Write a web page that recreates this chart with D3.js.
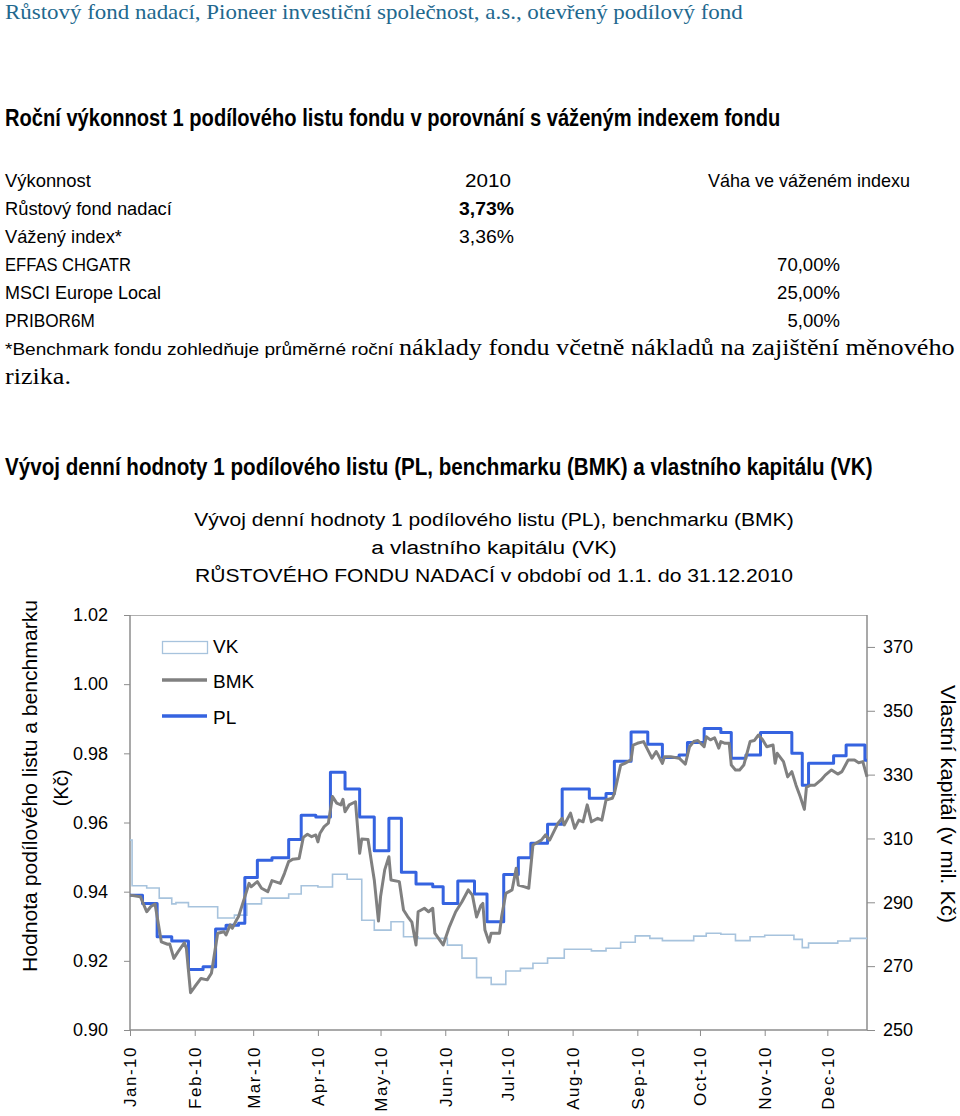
<!DOCTYPE html>
<html>
<head>
<meta charset="utf-8">
<script src="https://cdn.jsdelivr.net/npm/d3@7"></script>
<style>
  body { margin: 0; background: #fff; }
  svg { display: block; }
  text { font-family: "Liberation Sans", Arial, sans-serif; }
  text.narrow { font-family: "Liberation Sans Narrow", "Arial Narrow", "Liberation Sans", Arial, sans-serif; }
  text.serif { font-family: "Liberation Serif", "Times New Roman", serif; }
</style>
</head>
<body>
<svg id="chart" width="960" height="1116"></svg>
<script>
// ---- data ----
const monthLabels = ['Jan-10', 'Feb-10', 'Mar-10', 'Apr-10', 'May-10', 'Jun-10',
  'Jul-10', 'Aug-10', 'Sep-10', 'Oct-10', 'Nov-10', 'Dec-10'];
const leftTicks = [0.90, 0.92, 0.94, 0.96, 0.98, 1.00, 1.02];
const rightTicks = [250, 270, 290, 310, 330, 350, 370];

// performance table
const perfHeader = ['Výkonnost', '2010', 'Váha ve váženém indexu'];
const perfNames = ['Růstový fond nadací', 'Vážený index*', 'EFFAS CHGATR', 'MSCI Europe Local', 'PRIBOR6M'];
const perfReturns = ['3,73%', '3,36%', '', '', ''];
const perfWeights = ['', '', '70,00%', '25,00%', '5,00%'];

// PL - value of one unit (weekly steps)
const plDates = ['2010-01-01', '2010-01-07', '2010-01-14', '2010-01-21', '2010-01-29', '2010-02-05',
  '2010-02-11', '2010-02-16', '2010-02-22', '2010-02-25', '2010-03-03', '2010-03-10', '2010-03-18',
  '2010-03-24', '2010-03-31', '2010-04-07', '2010-04-14', '2010-04-21', '2010-04-28', '2010-05-05',
  '2010-05-11', '2010-05-18', '2010-05-26', '2010-05-31', '2010-06-07', '2010-06-15', '2010-06-21',
  '2010-06-29', '2010-07-06', '2010-07-12', '2010-07-20', '2010-07-27', '2010-08-09', '2010-08-17',
  '2010-08-21', '2010-08-29', '2010-09-06', '2010-09-13', '2010-09-21', '2010-09-25', '2010-10-03',
  '2010-10-11', '2010-10-16', '2010-10-23', '2010-10-30', '2010-11-14', '2010-11-19', '2010-11-22',
  '2010-12-04', '2010-12-10', '2010-12-19', '2010-12-20'];
const plValues = [0.9390, 0.9366, 0.9270, 0.9257, 0.9175, 0.9183,
  0.9292, 0.9303, 0.9309, 0.9441, 0.9491, 0.9498, 0.9551,
  0.9621, 0.9616, 0.9745, 0.9697, 0.9616, 0.9518, 0.9612,
  0.9456, 0.9422, 0.9414, 0.9366, 0.9431, 0.9393, 0.9313,
  0.9450, 0.9498, 0.9540, 0.9595, 0.9697, 0.9670, 0.9684,
  0.9777, 0.9862, 0.9826, 0.9788, 0.9795, 0.9831, 0.9872,
  0.9860, 0.9786, 0.9795, 0.9860, 0.9800, 0.9708, 0.9771,
  0.9793, 0.9824, 0.9780, 0.9780];

// BMK - benchmark (daily)
const bmkDates = ['2010-01-01', '2010-01-06', '2010-01-09', '2010-01-11', '2010-01-13', '2010-01-16',
  '2010-01-19', '2010-01-20', '2010-01-22', '2010-01-24', '2010-01-27', '2010-01-28', '2010-01-30',
  '2010-02-01', '2010-02-04', '2010-02-07', '2010-02-09', '2010-02-12', '2010-02-15', '2010-02-16',
  '2010-02-18', '2010-02-19', '2010-02-21', '2010-02-22', '2010-02-25', '2010-02-27', '2010-02-28',
  '2010-03-03', '2010-03-05', '2010-03-08', '2010-03-10', '2010-03-14', '2010-03-16', '2010-03-18',
  '2010-03-20', '2010-03-23', '2010-03-25', '2010-03-27', '2010-03-29', '2010-03-31', '2010-04-01',
  '2010-04-02', '2010-04-04', '2010-04-06', '2010-04-08', '2010-04-10', '2010-04-12', '2010-04-13',
  '2010-04-14', '2010-04-16', '2010-04-19', '2010-04-21', '2010-04-22', '2010-04-25', '2010-04-27',
  '2010-04-28', '2010-04-30', '2010-05-01', '2010-05-03', '2010-05-05', '2010-05-06', '2010-05-10',
  '2010-05-12', '2010-05-14', '2010-05-16', '2010-05-18', '2010-05-19', '2010-05-22', '2010-05-24',
  '2010-05-26', '2010-05-27', '2010-05-31', '2010-06-03', '2010-06-06', '2010-06-09', '2010-06-12',
  '2010-06-14', '2010-06-16', '2010-06-18', '2010-06-19', '2010-06-20', '2010-06-22', '2010-06-23',
  '2010-06-27', '2010-06-28', '2010-06-30', '2010-07-03', '2010-07-05', '2010-07-06', '2010-07-09',
  '2010-07-11', '2010-07-13', '2010-07-17', '2010-07-19', '2010-07-21', '2010-07-25', '2010-07-27',
  '2010-07-28', '2010-07-31', '2010-08-02', '2010-08-04', '2010-08-06', '2010-08-08', '2010-08-10',
  '2010-08-13', '2010-08-15', '2010-08-17', '2010-08-20', '2010-08-21', '2010-08-24', '2010-08-26',
  '2010-08-29', '2010-08-30', '2010-09-01', '2010-09-04', '2010-09-06', '2010-09-08', '2010-09-10',
  '2010-09-11', '2010-09-13', '2010-09-14', '2010-09-17', '2010-09-21', '2010-09-24', '2010-09-26',
  '2010-09-28', '2010-09-30', '2010-10-03', '2010-10-04', '2010-10-06', '2010-10-08', '2010-10-10',
  '2010-10-11', '2010-10-13', '2010-10-15', '2010-10-16', '2010-10-18', '2010-10-20', '2010-10-22',
  '2010-10-25', '2010-10-27', '2010-10-29', '2010-10-31', '2010-11-02', '2010-11-05', '2010-11-06',
  '2010-11-07', '2010-11-10', '2010-11-12', '2010-11-14', '2010-11-16', '2010-11-18', '2010-11-20',
  '2010-11-21', '2010-11-23', '2010-11-25', '2010-11-28', '2010-11-30', '2010-12-03', '2010-12-06',
  '2010-12-08', '2010-12-11', '2010-12-14', '2010-12-16', '2010-12-18', '2010-12-20'];
const bmkValues = [0.9390, 0.9385, 0.9342, 0.9357, 0.9364, 0.9255,
  0.9248, 0.9249, 0.9207, 0.9226, 0.9252, 0.9236, 0.9108,
  0.9125, 0.9149, 0.9145, 0.9164, 0.9280, 0.9284, 0.9275,
  0.9304, 0.9294, 0.9318, 0.9328, 0.9385, 0.9424, 0.9414,
  0.9429, 0.9410, 0.9400, 0.9432, 0.9424, 0.9453, 0.9487,
  0.9494, 0.9496, 0.9557, 0.9566, 0.9559, 0.9564, 0.9544,
  0.9569, 0.9588, 0.9598, 0.9675, 0.9656, 0.9651, 0.9667,
  0.9631, 0.9651, 0.9660, 0.9511, 0.9552, 0.9551, 0.9472,
  0.9434, 0.9315, 0.9385, 0.9463, 0.9501, 0.9434, 0.9429,
  0.9347, 0.9328, 0.9312, 0.9246, 0.9342, 0.9352, 0.9342,
  0.9352, 0.9280, 0.9246, 0.9299, 0.9342, 0.9371, 0.9405,
  0.9390, 0.9327, 0.9359, 0.9366, 0.9289, 0.9254, 0.9280,
  0.9280, 0.9328, 0.9395, 0.9405, 0.9468, 0.9419, 0.9414,
  0.9410, 0.9535, 0.9549, 0.9564, 0.9549, 0.9598, 0.9612,
  0.9593, 0.9627, 0.9583, 0.9607, 0.9602, 0.9651, 0.9602,
  0.9612, 0.9607, 0.9665, 0.9670, 0.9684, 0.9766, 0.9771,
  0.9781, 0.9824, 0.9829, 0.9834, 0.9810, 0.9786, 0.9805,
  0.9795, 0.9771, 0.9790, 0.9790, 0.9786, 0.9769, 0.9819,
  0.9834, 0.9837, 0.9819, 0.9848, 0.9839, 0.9845, 0.9815,
  0.9834, 0.9829, 0.9829, 0.9766, 0.9752, 0.9752, 0.9766,
  0.9834, 0.9837, 0.9853, 0.9839, 0.9819, 0.9824, 0.9771,
  0.9800, 0.9776, 0.9732, 0.9747, 0.9708, 0.9675, 0.9638,
  0.9702, 0.9708, 0.9708, 0.9723, 0.9737, 0.9752, 0.9740,
  0.9747, 0.9781, 0.9781, 0.9773, 0.9776, 0.9732];

// VK - equity in mil. CZK (right axis, steps)
const vkDates = ['2010-01-01', '2010-01-02', '2010-01-09', '2010-01-15', '2010-01-21', '2010-01-23',
  '2010-01-29', '2010-02-12', '2010-02-20', '2010-02-26', '2010-03-05', '2010-03-18', '2010-03-24',
  '2010-04-01', '2010-04-08', '2010-04-15', '2010-04-22', '2010-04-28', '2010-05-06', '2010-05-12',
  '2010-05-19', '2010-06-02', '2010-06-09', '2010-06-16', '2010-06-23', '2010-06-30', '2010-07-07',
  '2010-07-13', '2010-07-20', '2010-07-28', '2010-08-10', '2010-08-17', '2010-08-24', '2010-08-31',
  '2010-09-07', '2010-09-13', '2010-09-28', '2010-10-04', '2010-10-11', '2010-10-18', '2010-10-25',
  '2010-11-01', '2010-11-15', '2010-11-19', '2010-11-22', '2010-12-06', '2010-12-12', '2010-12-20'];
const vkValues = [309.5, 295.2, 294.5, 291.3, 289.5, 289.9,
  288.6, 285.1, 286.0, 289.5, 291.3, 292.6, 295.2,
  294.8, 298.8, 297.2, 284.4, 281.3, 283.9, 279.2,
  278.7, 276.6, 272.5, 266.4, 264.3, 268.5, 269.3,
  270.9, 272.5, 275.3, 274.8, 275.6, 277.5, 279.5,
  278.7, 278.0, 279.4, 280.3, 280.0, 278.0, 279.2,
  279.7, 278.4, 275.8, 277.2, 277.9, 278.7, 278.7];

// ---- drawing ----
const svg = d3.select('#chart');
const parse = d3.timeParse('%Y-%m-%d');
const zip = (ds, vs) => ds.map((d, i) => ({ date: parse(d), value: vs[i] }));

const pl = zip(plDates, plValues);
const bmk = zip(bmkDates, bmkValues);
const vk = zip(vkDates, vkValues);

const plot = { left: 130, right: 867, top: 615, bottom: 1030 };

// text helper; 'len' squeezes the text horizontally to the width seen in the reference
function txt(x, y, s, opts = {}) {
  const t = svg.append('text').text(s)
    .attr('font-size', opts.size || 17)
    .attr('fill', opts.fill || '#000');
  if (opts.weight) t.attr('font-weight', opts.weight);
  if (opts.cls) t.attr('class', opts.cls);
  if (opts.anchor) t.attr('text-anchor', opts.anchor);
  let k = 1;
  if (opts.len) {
    const natural = t.node().getComputedTextLength();
    if (natural > 0) k = opts.len / natural;
  }
  t.attr('transform', `translate(${x},${y}) scale(${k},1)`);
  return t;
}

txt(5, 19, 'Růstový fond nadací, Pioneer investiční společnost, a.s., otevřený podílový fond',
  { size: 22, cls: 'serif', fill: '#22688e', len: 738 });
txt(5, 126, 'Roční výkonnost 1 podílového listu fondu v porovnání s váženým indexem fondu',
  { size: 24, weight: 'bold', cls: 'narrow', len: 776 });

// table
const rowY = 187, rowH = 28;
const nameLens = [167, 117, 126, 156, 90];
txt(5, rowY, perfHeader[0], { size: 18, cls: 'narrow', len: 86 });
txt(511, rowY, perfHeader[1], { size: 18, cls: 'narrow', anchor: 'end', len: 46 });
txt(910, rowY, perfHeader[2], { size: 18, cls: 'narrow', anchor: 'end', len: 202 });
perfNames.forEach((name, i) => {
  const yy = rowY + rowH * (i + 1);
  txt(5, yy, name, { size: 18, cls: 'narrow', len: nameLens[i] });
  if (perfReturns[i]) txt(514, yy, perfReturns[i], { size: 18, cls: 'narrow', anchor: 'end', len: 55, weight: i === 0 ? 'bold' : null });
  if (perfWeights[i]) txt(840, yy, perfWeights[i], { size: 18, cls: 'narrow', anchor: 'end', len: perfWeights[i].length * 10.5 });
});
const noteY = rowY + rowH * 6;
txt(5, noteY, '*Benchmark fondu zohledňuje průměrné roční', { size: 17, cls: 'narrow', len: 389 });
txt(399, noteY, 'náklady fondu včetně nákladů na zajištění měnového', { size: 24, cls: 'serif', len: 556 });
txt(5, noteY + 29, 'rizika.', { size: 24, cls: 'serif', len: 66 });

txt(5, 475, 'Vývoj denní hodnoty 1 podílového listu (PL, benchmarku (BMK) a vlastního kapitálu (VK)',
  { size: 24, weight: 'bold', cls: 'narrow', len: 868 });

// chart title
const titleX = 494;
txt(titleX, 526, 'Vývoj denní hodnoty 1 podílového listu (PL), benchmarku (BMK)', { size: 19, anchor: 'middle', len: 600 });
txt(titleX, 554, 'a vlastního kapitálu (VK)', { size: 19, anchor: 'middle', len: 246 });
txt(titleX, 582, 'RŮSTOVÉHO FONDU NADACÍ v období od 1.1. do 31.12.2010', { size: 19, anchor: 'middle', len: 598 });

// scales
const x = d3.scaleTime()
  .domain([new Date(2010, 0, 1), new Date(2010, 11, 20)])
  .range([plot.left, plot.right]);
const y = d3.scaleLinear().domain([0.90, 1.02]).range([plot.bottom, plot.top]);
const y2 = d3.scaleLinear().domain([250, 380]).range([plot.bottom, plot.top]);

// frame top
svg.append('line').attr('x1', plot.left).attr('x2', plot.right)
  .attr('y1', plot.top + 0.5).attr('y2', plot.top + 0.5).attr('stroke', '#b0b0b0');

// axes
const fmtLeft = d3.format('.2f');
const gLeft = svg.append('g').attr('transform', `translate(${plot.left},0)`)
  .call(d3.axisLeft(y).tickValues(leftTicks).tickFormat(fmtLeft).tickSize(6).tickPadding(16));
const gRight = svg.append('g').attr('transform', `translate(${plot.right},0)`)
  .call(d3.axisRight(y2).tickValues(rightTicks).tickSize(8).tickPadding(8));
const monthTicks = d3.timeMonth.range(new Date(2010, 0, 1), new Date(2010, 11, 2));
const gBottom = svg.append('g').attr('transform', `translate(0,${plot.bottom})`)
  .call(d3.axisBottom(x).tickValues(monthTicks).tickFormat((d, i) => monthLabels[i]).tickSize(6));

[gLeft, gRight, gBottom].forEach(g => {
  g.select('.domain').attr('stroke', '#8c8c8c').attr('stroke-width', 1.5);
  g.selectAll('.tick line').attr('stroke', '#8c8c8c');
  g.selectAll('.tick text').attr('font-size', 18).attr('fill', '#000')
    .attr('font-family', '"Liberation Sans", Arial, sans-serif');
});
gBottom.select('.domain').attr('d', `M${plot.left},0H${plot.right}`);
gLeft.select('.domain').attr('d', `M0,${plot.top}V${plot.bottom}`);
gRight.select('.domain').attr('d', `M0,${plot.top}V${plot.bottom}`);

gBottom.selectAll('.tick text')
  .attr('font-size', 17)
  .attr('letter-spacing', 1.5)
  .attr('text-anchor', 'end')
  .attr('transform', 'rotate(-90)')
  .attr('x', -16).attr('y', 0).attr('dy', '0.35em');

// axis titles
svg.append('text').attr('transform', 'translate(30,786) rotate(-90)')
  .attr('text-anchor', 'middle').attr('dy', '0.35em').attr('font-size', 20)
  .attr('textLength', 372).attr('lengthAdjust', 'spacingAndGlyphs')
  .text('Hodnota podílového listu a benchmarku');
svg.append('text').attr('transform', 'translate(61,788) rotate(-90)')
  .attr('text-anchor', 'middle').attr('dy', '0.35em').attr('font-size', 20)
  .text('(Kč)');
svg.append('text').attr('transform', 'translate(948,804) rotate(90)')
  .attr('text-anchor', 'middle').attr('dy', '0.35em').attr('font-size', 20)
  .attr('textLength', 238).attr('lengthAdjust', 'spacingAndGlyphs')
  .text('Vlastní kapitál (v mil. Kč)');

// series
const colors = { vk: '#a7c3dd', bmk: '#808080', pl: '#3563e0' };
const stepLine = (sc) => d3.line().x(d => x(d.date)).y(d => sc(d.value)).curve(d3.curveStepAfter);

svg.append('path').datum(vk).attr('d', stepLine(y2))
  .attr('fill', 'none').attr('stroke', colors.vk).attr('stroke-width', 1.6);
svg.append('path').datum(pl).attr('d', stepLine(y))
  .attr('fill', 'none').attr('stroke', colors.pl).attr('stroke-width', 3).attr('stroke-linejoin', 'round');
svg.append('path').datum(bmk)
  .attr('d', d3.line().x(d => x(d.date)).y(d => y(d.value)))
  .attr('fill', 'none').attr('stroke', colors.bmk).attr('stroke-width', 3).attr('stroke-linejoin', 'round');

// legend
const legend = svg.append('g').attr('transform', 'translate(162,0)');
legend.append('rect').attr('x', 0.5).attr('y', 641.5).attr('width', 45).attr('height', 12)
  .attr('fill', 'none').attr('stroke', colors.vk).attr('stroke-width', 1.3);
legend.append('line').attr('x1', 0).attr('x2', 45).attr('y1', 680).attr('y2', 680)
  .attr('stroke', colors.bmk).attr('stroke-width', 3.5);
legend.append('line').attr('x1', 0).attr('x2', 45).attr('y1', 716).attr('y2', 716)
  .attr('stroke', colors.pl).attr('stroke-width', 3.5);
[['VK', 646], ['BMK', 681], ['PL', 717]].forEach(([s, yy]) => {
  legend.append('text').attr('x', 51).attr('y', yy).attr('dy', '0.35em')
    .attr('font-size', 19).text(s);
});
</script>
</body>
</html>
